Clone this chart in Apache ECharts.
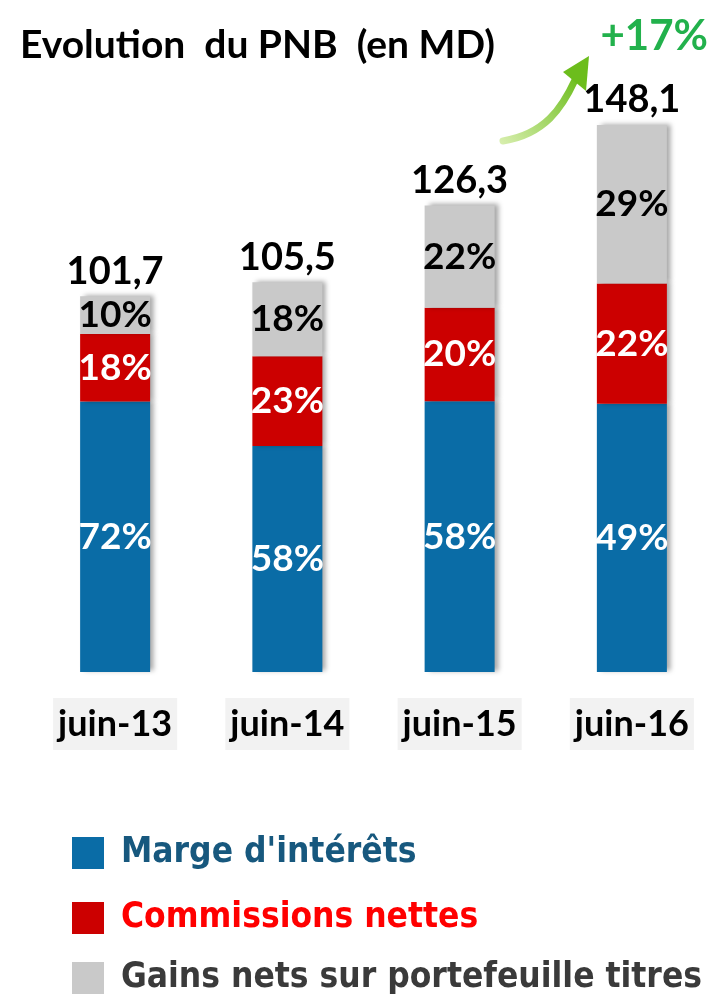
<!DOCTYPE html>
<html>
<head>
<meta charset="utf-8">
<script src="https://cdn.jsdelivr.net/npm/echarts@6/dist/echarts.min.js"></script>
<style>
  html, body { margin: 0; padding: 0; background: #fff; }
  #chart { width: 724px; height: 999px; }
</style>
</head>
<body>
<div id="chart"></div>
<script>
  // données (en MD)
  const categories = ['juin-13', 'juin-14', 'juin-15', 'juin-16']
  const totals = [101.7, 105.5, 126.3, 148.1]
  const totalLabels = ['101,7', '105,5', '126,3', '148,1']
  const margeValues = [73.2, 61.2, 73.3, 72.6]
  const commissionsValues = [18.3, 24.3, 25.3, 32.6]
  const gainsValues = [10.2, 20.0, 27.7, 42.9]
  const margePct = ['72%', '58%', '58%', '49%']
  const commissionsPct = ['18%', '23%', '20%', '22%']
  const gainsPct = ['10%', '18%', '22%', '29%']

  const font = 'Lato, "Open Sans", sans-serif'
  const legendFont = '"Liberation Sans Narrow", "DejaVu Sans Condensed", sans-serif'

  const shadow = {
    shadowColor: 'rgba(0,0,0,0.35)',
    shadowBlur: 5,
    shadowOffsetX: 4,
    shadowOffsetY: -1
  }

  const pctLabel = (texts, color) => ({
    show: true,
    position: 'inside',
    color: color,
    fontFamily: font,
    fontWeight: 'bold',
    fontSize: 37,
    formatter: (p) => texts[p.dataIndex]
  })

  // une légende par ligne, pour éviter le passage en colonnes
  const legendRow = (name, color, top) => ({
    orient: 'vertical',
    left: 72,
    top: top,
    padding: 0,
    icon: 'rect',
    itemWidth: 32,
    itemHeight: 32,
    selectedMode: false,
    textStyle: {
      fontFamily: legendFont,
      fontWeight: 'bold',
      fontSize: 35,
      lineHeight: 40,
      color: color,
      padding: [0, 0, 0, 12]
    },
    data: [name]
  })

  const myChart = echarts.init(document.getElementById('chart'))

  const option = {
    backgroundColor: '#ffffff',
    animation: false,
    title: [
      {
        text: 'Evolution  du PNB  (en MD)',
        left: 15,
        top: 21,
        textStyle: { fontFamily: font, fontWeight: 'bold', fontSize: 39, color: '#000' }
      },
      {
        text: '+17%',
        right: 11,
        top: 10,
        textStyle: { fontFamily: font, fontWeight: 'bold', fontSize: 42, color: '#22b14c' }
      }
    ],
    legend: [
      legendRow("Marge d'intérêts", '#17587e', 833),
      legendRow('Commissions nettes', '#ff0000', 898),
      legendRow('Gains nets sur portefeuille titres', '#3a3a3a', 958)
    ],
    grid: {
      left: 29,
      right: 6,
      top: 81,
      height: 591
    },
    xAxis: {
      type: 'category',
      data: categories,
      axisLine: { show: false },
      axisTick: { show: false },
      axisLabel: {
        margin: 26,
        color: '#000',
        fontFamily: font,
        fontWeight: 'bold',
        fontSize: 36,
        backgroundColor: '#f2f2f2',
        padding: [8, 5, 8, 5]
      }
    },
    yAxis: {
      type: 'value',
      min: 0,
      max: 160,
      show: false,
      splitLine: { show: false }
    },
    series: [
      {
        name: "Marge d'intérêts",
        type: 'bar',
        stack: 'pnb',
        barWidth: 70,
        data: margeValues,
        itemStyle: Object.assign({ color: '#0a6ca6' }, shadow),
        label: pctLabel(margePct, '#ffffff')
      },
      {
        name: 'Commissions nettes',
        type: 'bar',
        stack: 'pnb',
        barWidth: 70,
        data: commissionsValues,
        itemStyle: Object.assign({ color: '#cc0000' }, shadow),
        label: pctLabel(commissionsPct, '#ffffff')
      },
      {
        name: 'Gains nets sur portefeuille titres',
        type: 'bar',
        stack: 'pnb',
        barWidth: 70,
        data: gainsValues,
        itemStyle: Object.assign({ color: '#c9c9c9' }, shadow),
        label: pctLabel(gainsPct, '#000000')
      },
      {
        // totaux : barre transparente superposée, étiquette au-dessus
        name: 'Total',
        type: 'bar',
        barWidth: 70,
        barGap: '-100%',
        z: 1,
        silent: true,
        data: totals,
        itemStyle: { color: 'rgba(0,0,0,0)' },
        label: {
          show: true,
          position: 'top',
          distance: 6,
          color: '#000',
          fontFamily: font,
          fontWeight: 'bold',
          fontSize: 38,
          formatter: (p) => totalLabels[p.dataIndex]
        }
      }
    ],
    graphic: [
      // flèche verte de progression
      {
        type: 'bezierCurve',
        shape: { x1: 503, y1: 141, cpx1: 545, cpy1: 134, cpx2: 562, cpy2: 108, x2: 575, y2: 80 },
        style: {
          fill: null,
          stroke: new echarts.graphic.LinearGradient(0, 1, 1, 0, [
            { offset: 0, color: '#d9efb0' },
            { offset: 1, color: '#6cbd1c' }
          ]),
          lineWidth: 7,
          lineCap: 'round'
        },
        z: 10
      },
      {
        type: 'polygon',
        shape: { points: [[589, 56], [563, 72], [586, 91]] },
        style: { fill: '#6cbd1c' },
        z: 10
      }
    ]
  }

  myChart.setOption(option)
  window.addEventListener('resize', () => {
    myChart.resize()
  })
</script>
</body>
</html>
